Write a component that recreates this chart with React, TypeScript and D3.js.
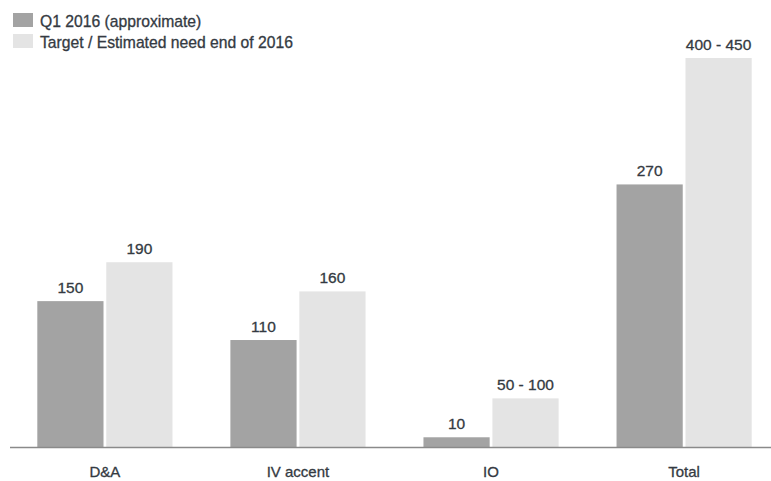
import React, { useEffect, useRef } from 'react';
import * as d3 from 'd3';

const categories = ['D&A', 'IV accent', 'IO', 'Total'];
const q1Values = [150, 110, 10, 270];
const targetValues = [190, 160, 50, 400];
const q1Labels = ['150', '110', '10', '270'];
const targetLabels = ['190', '160', '50 - 100', '400 - 450'];
const seriesNames = ['Q1 2016 (approximate)', 'Target / Estimated need end of 2016'];
const seriesColors = ['#a3a3a3', '#e4e4e4'];

const App: React.FC = () => {
  const svgRef = useRef<SVGSVGElement | null>(null);

  useEffect(() => {
    if (!svgRef.current) return;
    const width = 771;
    const height = 481;
    const baseline = 447;
    const font = 'Liberation Sans, Arial, Helvetica, sans-serif';
    const textColor = '#343a42';

    const svg = d3.select(svgRef.current);
    svg.selectAll('*').remove();

    const x = d3.scaleBand<string>()
      .domain(categories)
      .range([18, 771])
      .paddingInner(0.3)
      .paddingOuter(0.1);

    const xSub = d3.scaleBand<string>()
      .domain(['q1', 'target'])
      .range([0, x.bandwidth()])
      .paddingInner(0.04);

    // roughly 0.97 px per unit
    const y = d3.scaleLinear().domain([0, 400]).range([baseline, baseline - 389]);

    const rows = categories.map((c, i) => ({
      cat: c,
      bars: [
        { key: 'q1', value: q1Values[i], label: q1Labels[i], color: seriesColors[0] },
        { key: 'target', value: targetValues[i], label: targetLabels[i], color: seriesColors[1] },
      ],
    }));

    const group = svg.selectAll('.grp')
      .data(rows)
      .enter().append('g')
      .attr('class', 'grp')
      .attr('transform', d => `translate(${x(d.cat)},0)`);

    group.selectAll('rect')
      .data(d => d.bars)
      .enter().append('rect')
      .attr('x', d => xSub(d.key) ?? 0)
      .attr('y', d => y(d.value))
      .attr('width', xSub.bandwidth())
      .attr('height', d => baseline - y(d.value))
      .style('fill', d => d.color);

    group.selectAll('text.val')
      .data(d => d.bars)
      .enter().append('text')
      .attr('class', 'val')
      .attr('x', d => (xSub(d.key) ?? 0) + xSub.bandwidth() / 2)
      .attr('y', d => y(d.value) - 8)
      .attr('text-anchor', 'middle')
      .style('font-family', font)
      .style('font-size', '15.5px')
      .style('fill', textColor)
      .style('stroke', textColor)
      .style('stroke-width', 0.3)
      .text(d => d.label);

    // baseline
    svg.append('line')
      .attr('x1', 10)
      .attr('x2', width)
      .attr('y1', baseline + 0.5)
      .attr('y2', baseline + 0.5)
      .style('stroke', '#8a8a8a')
      .style('stroke-width', 1.5);

    // category labels
    svg.selectAll('.cat')
      .data(categories)
      .enter().append('text')
      .attr('class', 'cat')
      .attr('x', d => (x(d) ?? 0) + x.bandwidth() / 2)
      .attr('y', 477)
      .attr('text-anchor', 'middle')
      .style('font-family', font)
      .style('font-size', '15px')
      .style('fill', textColor)
      .style('stroke', textColor)
      .style('stroke-width', 0.3)
      .text(d => d);

    // legend
    const legend = svg.selectAll('.leg')
      .data(seriesNames)
      .enter().append('g')
      .attr('class', 'leg')
      .attr('transform', (_, i) => `translate(13,${13 + i * 21})`);

    legend.append('rect')
      .attr('width', 20)
      .attr('height', 14)
      .style('fill', (_, i) => seriesColors[i]);

    legend.append('text')
      .attr('x', 27)
      .attr('y', 14)
      .style('font-family', font)
      .style('font-size', '15.7px')
      .style('fill', textColor)
      .style('stroke', textColor)
      .style('stroke-width', 0.3)
      .text(d => d);

    svg.attr('width', width).attr('height', height);
  }, []);

  return (
    <div style={{ position: 'fixed', left: 0, top: 0, width: 771, height: 481, background: '#fff' }}>
      <svg ref={svgRef} width={771} height={481} />
    </div>
  );
};

export default App;
